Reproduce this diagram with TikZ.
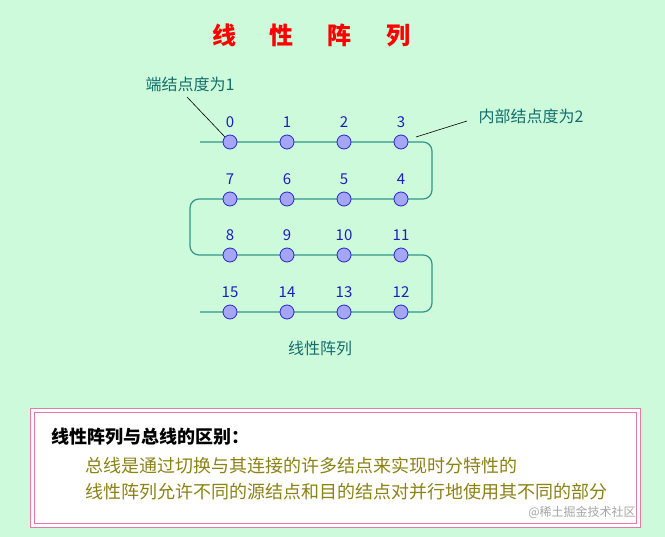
\documentclass[tikz,border=0pt]{standalone}
\usepackage{fontspec}
\newfontfamily\cjk{Noto Sans CJK SC}
\definecolor{bg}{RGB}{204,250,218}
\definecolor{wire}{RGB}{50,150,140}
\definecolor{nfill}{RGB}{165,165,250}
\definecolor{nbord}{RGB}{40,40,200}
\definecolor{lab}{RGB}{30,30,190}
\definecolor{note}{RGB}{20,110,110}
\definecolor{olive}{RGB}{140,130,20}
\definecolor{pinkb}{RGB}{230,120,170}
\begin{document}
\begin{tikzpicture}[x=1pt,y=-1pt,
  pe/.style={circle,draw=nbord,fill=nfill,line width=0.8pt,minimum size=14pt,inner sep=0pt},
  num/.style={text=lab,font=\cjk\fontsize{15}{15}\selectfont},
  wire/.style={draw=wire,line width=1.2pt,rounded corners=9pt},
  notetext/.style={text=note,font=\cjk\fontsize{16}{16}\selectfont}]
\fill[bg] (0,0) rectangle (665,537);
\useasboundingbox (0,0) rectangle (665,537);
\node[text=red,font=\cjk\bfseries\fontsize{24}{24}\selectfont] (title) at (311,35) {线\hspace{34pt}性\hspace{34pt}阵\hspace{34pt}列};
\coordinate (l0) at (200,142);
\coordinate (l3) at (200,312);
\draw[wire] (l0) -- (432,142) -- (432,199) -- (190,199) -- (190,255) -- (432,255) -- (432,312) -- (l3);
\foreach \i/\x/\y in {0/230/142,1/287/142,2/344/142,3/401/142,
  7/230/199,6/287/199,5/344/199,4/401/199,
  8/230/255,9/287/255,10/344/255,11/401/255,
  15/230/312,14/287/312,13/344/312,12/401/312}{
  \node[pe] (n\i) at (\x,\y) {};
  \node[num] (t\i) at (\x,\y-20) {\i};
}
\node[notetext] (e1) at (190,84) {端结点度为1};
\draw[black,line width=0.6pt] (187,97) -- (n0.north west);
\node[notetext] (e2) at (531,116) {内部结点度为2};
\draw[black,line width=0.6pt] (467,121) -- (416,137);
\node[notetext] (cap) at (320,348) {线性阵列};
\draw[pinkb,fill=white,line width=0.8pt] (30,408) rectangle (640,527);
\draw[pinkb,line width=0.8pt] (34,412) rectangle (636,523);
\node[anchor=west,font=\cjk\bfseries\fontsize{18}{18}\selectfont] (h) at (48,437) {线性阵列与总线的区别：};
\node[anchor=west,text=olive,font=\cjk\fontsize{18}{18}\selectfont] (a) at (82,466) {总线是通过切换与其连接的许多结点来实现时分特性的};
\node[anchor=west,text=olive,font=\cjk\fontsize{18}{18}\selectfont] (b) at (82,492) {线性阵列允许不同的源结点和目的结点对并行地使用其不同的部分};
\node[text=gray!70,font=\cjk\fontsize{12}{12}\selectfont] (wm) at (582,512) {@稀土掘金技术社区};
\end{tikzpicture}
\end{document}
